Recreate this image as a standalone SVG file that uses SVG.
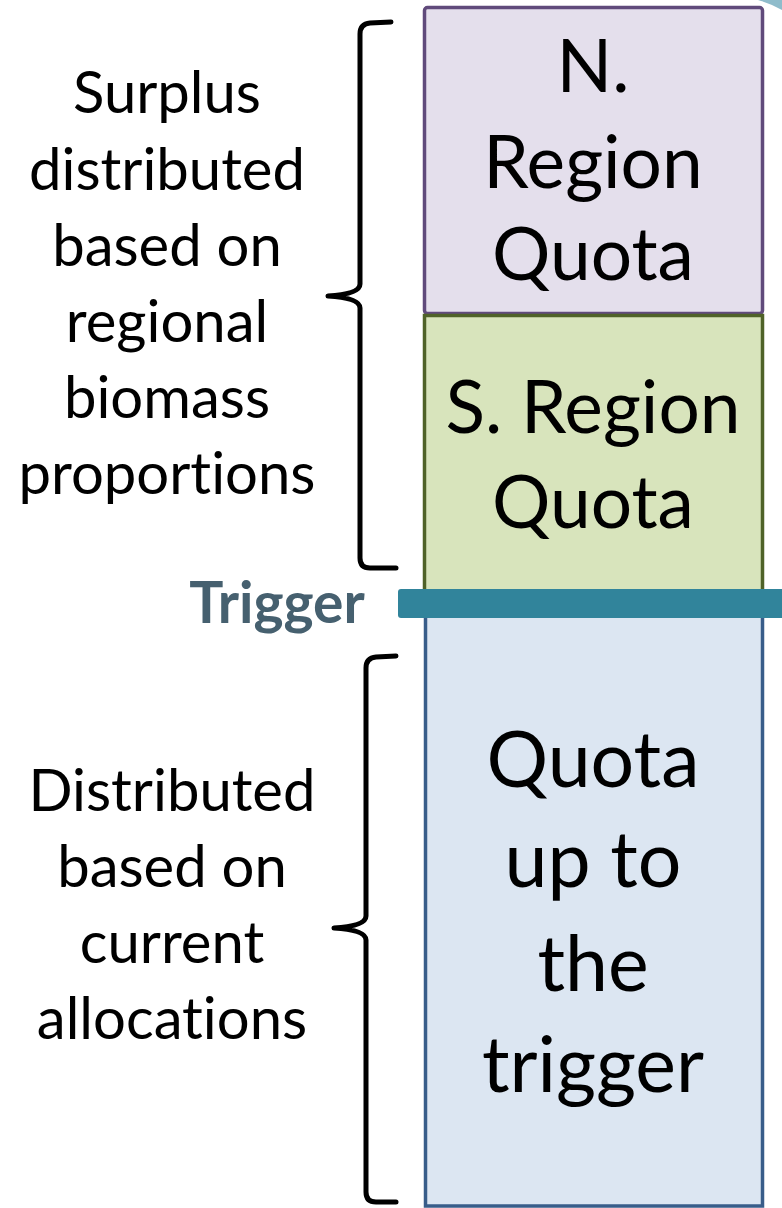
<svg xmlns="http://www.w3.org/2000/svg" width="782" height="1208" viewBox="0 0 782 1208">
<style>
text{font-variant-ligatures:none;font-feature-settings:"liga" 0}
.lbl{font-family:Lato,"Open Sans","Liberation Sans",sans-serif;fill:#000;text-anchor:middle}
.side{font-size:58px}
.big{font-size:73px}
.big2{font-size:77px}
.brace{fill:none;stroke:#000;stroke-width:5;stroke-linecap:round;stroke-linejoin:round}
</style>
<rect width="782" height="1208" fill="#fff"/>
<path d="M758,0 Q772,4 782,10 L782,0 Z" fill="#8fbccb"/>
<g id="n-region">
<rect x="424.5" y="7.5" width="338" height="306" rx="3" fill="#e4dfec" stroke="#604a7b" stroke-width="3.5"/>
<text class="lbl big" x="593" y="92">N.</text>
<text class="lbl big" x="593" y="188">Region</text>
<text class="lbl big" x="593" y="280">Quota</text>
</g>
<g id="s-region">
<rect x="424.5" y="315.5" width="338" height="282" fill="#d8e4bc" stroke="#4f6228" stroke-width="3.5"/>
<text class="lbl big" x="593" y="433">S. Region</text>
<text class="lbl big" x="593" y="528">Quota</text>
</g>
<g id="base-quota">
<rect x="425.5" y="612" width="337" height="594" fill="#dce6f2" stroke="#385d8a" stroke-width="3.5"/>
<text class="lbl big2" x="593" y="787">Quota</text>
<text class="lbl big2" x="593" y="887">up to</text>
<text class="lbl big2" x="593" y="991">the</text>
<text class="lbl big2" x="593" y="1092">trigger</text>
</g>
<g id="trigger">
<rect x="398" y="589" width="390" height="29" rx="3" fill="#31849b"/>
<text x="277" y="623" font-family="Lato,'Open Sans','Liberation Sans',sans-serif" font-weight="bold" font-size="57" fill="#46606f" text-anchor="middle">Trigger</text>
</g>
<g id="surplus-label">
<text class="lbl side" x="167" y="113">Surplus</text>
<text class="lbl side" x="167" y="190">distributed</text>
<text class="lbl side" x="167" y="266">based on</text>
<text class="lbl side" x="167" y="342">regional</text>
<text class="lbl side" x="167" y="418">biomass</text>
<text class="lbl side" x="167" y="494">proportions</text>
</g>
<g id="distributed-label">
<text class="lbl side" x="172" y="811">Distributed</text>
<text class="lbl side" x="172" y="887">based on</text>
<text class="lbl side" x="172" y="963">current</text>
<text class="lbl side" x="172" y="1039">allocations</text>
</g>
<g id="connectors">
<path class="brace" d="M391,22 L370,23 Q360,24 360,34 L360,284 Q360,294 328,296 Q360,298 360,308 L360,558 Q360,568 370,568 L396,568"/>
<path class="brace" d="M396,656 L376,657 Q366,658 366,668 L366,916 Q366,926 334,928 Q366,930 366,940 L366,1192 Q366,1202 376,1202 L396,1202"/>
</g>
</svg>
